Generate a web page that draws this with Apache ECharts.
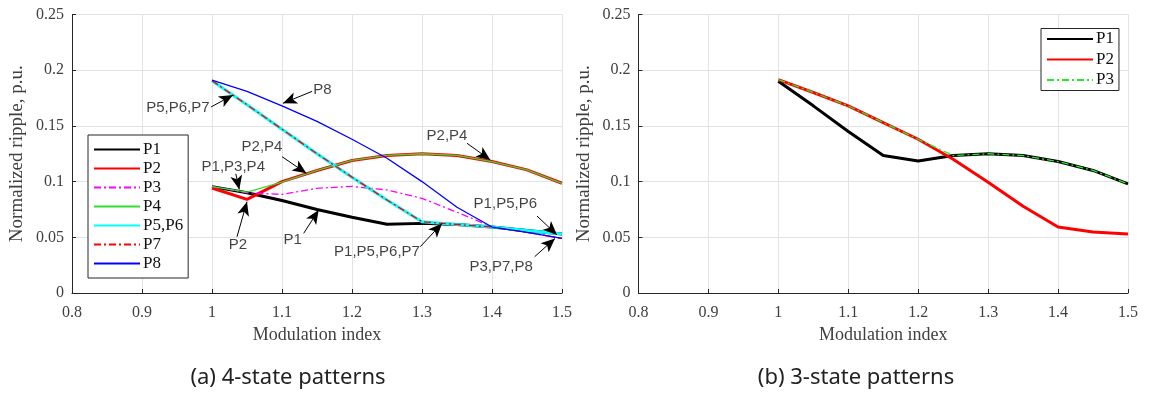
<!DOCTYPE html>
<html><head><meta charset="utf-8">
<script src="https://cdn.jsdelivr.net/npm/echarts@6/dist/echarts.min.js"></script>
<style>html,body{margin:0;padding:0;background:#fff}#c{width:1152px;height:394px}</style>
</head><body><div id="c"></div>
<script>
// ---------- data ----------
const mIndex = [1.0, 1.05, 1.1, 1.15, 1.2, 1.25, 1.3, 1.35, 1.4, 1.45, 1.5];
const xTicks = [0.8, 0.9, 1, 1.1, 1.2, 1.3, 1.4, 1.5];
const yTicks = [0, 0.05, 0.1, 0.15, 0.2, 0.25];

// (a) 4-state patterns
const a_P1   = [0.0955, 0.0900, 0.0830, 0.0750, 0.0680, 0.0617, 0.0625, 0.0615, 0.0592, 0.0560, 0.0530];
const a_P2   = [0.0943, 0.0840, 0.1000, 0.1100, 0.1190, 0.1235, 0.1250, 0.1235, 0.1180, 0.1105, 0.0985];
const a_P3   = [0.0955, 0.0900, 0.0885, 0.0940, 0.0957, 0.0925, 0.0850, 0.0725, 0.0595, 0.0545, 0.0490];
const a_P4   = [0.0955, 0.0905, 0.0995, 0.1100, 0.1190, 0.1235, 0.1250, 0.1235, 0.1180, 0.1105, 0.0985];
const a_P5P6 = [0.1906, 0.1690, 0.1470, 0.1250, 0.1040, 0.0835, 0.0640, 0.0615, 0.0592, 0.0560, 0.0530];
const a_P7   = [0.1906, 0.1690, 0.1470, 0.1250, 0.1040, 0.0835, 0.0640, 0.0615, 0.0592, 0.0545, 0.0490];
const a_P8   = [0.1910, 0.1810, 0.1680, 0.1540, 0.1380, 0.1210, 0.1000, 0.0770, 0.0592, 0.0545, 0.0490];

// (b) 3-state patterns
const b_P1 = [0.1900, 0.1680, 0.1450, 0.1234, 0.1185, 0.1234, 0.1250, 0.1234, 0.1180, 0.1100, 0.0980];
const b_P2 = [0.1916, 0.1800, 0.1680, 0.1530, 0.1380, 0.1200, 0.0994, 0.0778, 0.0593, 0.0548, 0.0530];
const b_P3 = [0.1916, 0.1800, 0.1680, 0.1530, 0.1380, 0.1234, 0.1250, 0.1234, 0.1180, 0.1100, 0.0980];

// annotations of (a): label centre and arrow tail -> tip, in data units
const annotText = ['P8', 'P5,P6,P7', 'P2,P4', 'P1,P3,P4', 'P2', 'P1', 'P2,P4', 'P1,P5,P6,P7', 'P1,P5,P6', 'P3,P7,P8'];
const annotLabelAt = [[1.1576,0.1822],[0.9513,0.1658],[1.0714,0.1308],[1.0304,0.1134],[1.0369,0.0431],[1.1154,0.0476],[1.3357,0.1409],[1.2357,0.0371],[1.4190,0.0799],[1.4130,0.0236]];
const annotTail = [[1.143,0.181],[0.9987,0.167],[1.100,0.1224],[1.034,0.107],[1.0357,0.0505],[1.131,0.0536],[1.3643,0.1344],[1.2976,0.0416],[1.4643,0.0691],[1.461,0.0326]];
const annotTip  = [[1.1014,0.1703],[1.030,0.1777],[1.1348,0.1074],[1.039,0.093],[1.050,0.082],[1.1524,0.0745],[1.3976,0.1194],[1.3286,0.0625],[1.4929,0.0521],[1.490,0.049]];

// ---------- chart ----------
const pairs = arr => mIndex.map((m, i) => [m, arr[i]]);
const serif = '"Liberation Serif", "DejaVu Serif", serif';
const sans = '"Liberation Sans", Arial, sans-serif';
const DASHDOT = [7, 3, 2, 3];

function xAxis(gi) {
  return {
    type: 'value', gridIndex: gi, min: 0.8, max: 1.5, interval: 0.1,
    name: 'Modulation index', nameLocation: 'middle', nameGap: 33,
    nameTextStyle: { fontFamily: serif, fontSize: 18, color: '#404040' },
    axisLine: { show: true, onZero: false, lineStyle: { color: '#262626', width: 1 } },
    axisTick: { show: true, inside: true, length: 4, lineStyle: { color: '#262626' } },
    axisLabel: { fontFamily: serif, fontSize: 16, color: '#404040', margin: 12,
      formatter: v => String(+v.toFixed(2)) },
    splitLine: { show: true, lineStyle: { color: '#e3e3e3', width: 1 } }
  };
}
function yAxis(gi) {
  return {
    type: 'value', gridIndex: gi, min: 0, max: 0.25, interval: 0.05,
    name: 'Normalized ripple, p.u.', nameLocation: 'middle', nameGap: 45,
    nameTextStyle: { fontFamily: serif, fontSize: 19, color: '#404040' },
    axisLine: { show: true, lineStyle: { color: '#262626', width: 1 } },
    axisTick: { show: true, inside: true, length: 4, lineStyle: { color: '#262626' } },
    axisLabel: { fontFamily: serif, fontSize: 16, color: '#404040', margin: 8,
      formatter: v => String(+v.toFixed(2)) },
    splitLine: { show: true, lineStyle: { color: '#e3e3e3', width: 1 } }
  };
}
function line(name, data, gi, color, width, type) {
  return { name, type: 'line', xAxisIndex: gi, yAxisIndex: gi, data: pairs(data),
    symbol: 'none', smooth: false, silent: true,
    lineStyle: { color, width, type: type || 'solid' }, itemStyle: { color } };
}

const arrows = annotTail.map((t, i) => [{ coord: t }, { coord: annotTip[i] }]);
const labels = annotLabelAt.map((p, i) => ({ value: p, name: annotText[i] }));

const legendText = { fontFamily: serif, fontSize: 17, color: '#111', padding: [0,0,0,-2] };
const option = {
  animation: false,
  backgroundColor: '#fff',
  grid: [
    { left: 72, right: 590, top: 14.5, bottom: 101 },
    { left: 638.5, right: 24, top: 14.5, bottom: 101 }
  ],
  xAxis: [xAxis(0), xAxis(1)],
  yAxis: [yAxis(0), yAxis(1)],
  legend: [
    { data: ['P1','P2','P3','P4','P5,P6','P7','P8'], orient: 'vertical',
      left: 88, top: 135, itemWidth: 46, itemHeight: 14, itemGap: 2,
      padding: [6, 5, 6, 5], borderColor: '#262626', borderWidth: 1, backgroundColor: '#fff',
      itemStyle: { opacity: 0 },
      textStyle: legendText, selectedMode: false },
    { data: ['b P1','b P2','b P3'], orient: 'vertical',
      left: 1041, top: 28.5, itemWidth: 46, itemHeight: 14, itemGap: 3.5,
      padding: [2, 5, 2, 5], borderColor: '#262626', borderWidth: 1, backgroundColor: '#fff',
      itemStyle: { opacity: 0 },
      formatter: n => n.replace(/^b /, ''),
      textStyle: legendText, selectedMode: false }
  ],
  series: [
    line('P1', a_P1, 0, '#000000', 3),
    line('P2', a_P2, 0, '#ff0000', 3),
    line('P3', a_P3, 0, '#ff00ff', 1.3, DASHDOT),
    line('P4', a_P4, 0, '#33dd33', 1.3),
    line('P5,P6', a_P5P6, 0, '#00ffff', 3),
    line('P7', a_P7, 0, '#ff0000', 1.3, DASHDOT),
    line('P8', a_P8, 0, '#0000ff', 1.3),
    { name: 'annotArrows', type: 'line', xAxisIndex: 0, yAxisIndex: 0, data: [], silent: true,
      markLine: { silent: true, symbol: ['none', 'arrow'], symbolSize: [9, 14], precision: 4,
        label: { show: false }, lineStyle: { color: '#000', width: 1, type: 'solid' },
        emphasis: { disabled: true }, data: arrows } },
    { name: 'annotLabels', type: 'scatter', xAxisIndex: 0, yAxisIndex: 0, symbolSize: 0, silent: true,
      data: labels,
      label: { show: true, position: 'inside', formatter: '{b}', fontFamily: sans, fontSize: 15, color: '#111' } },
    line('b P1', b_P1, 1, '#000000', 3),
    line('b P2', b_P2, 1, '#ff0000', 3),
    line('b P3', b_P3, 1, '#22ee22', 1.3, DASHDOT)
  ],
  graphic: [
    { type: 'text', x: 288, y: 378, style: { text: '(a) 4-state patterns', textAlign: 'center', textVerticalAlign: 'middle',
      font: '22px "Noto Sans", sans-serif', fill: '#222' } },
    { type: 'text', x: 856, y: 378, style: { text: '(b) 3-state patterns', textAlign: 'center', textVerticalAlign: 'middle',
      font: '22px "Noto Sans", sans-serif', fill: '#222' } }
  ]
};
const chart = echarts.init(document.getElementById('c'), null, { renderer: 'canvas' });
chart.setOption(option);
</script></body></html>
